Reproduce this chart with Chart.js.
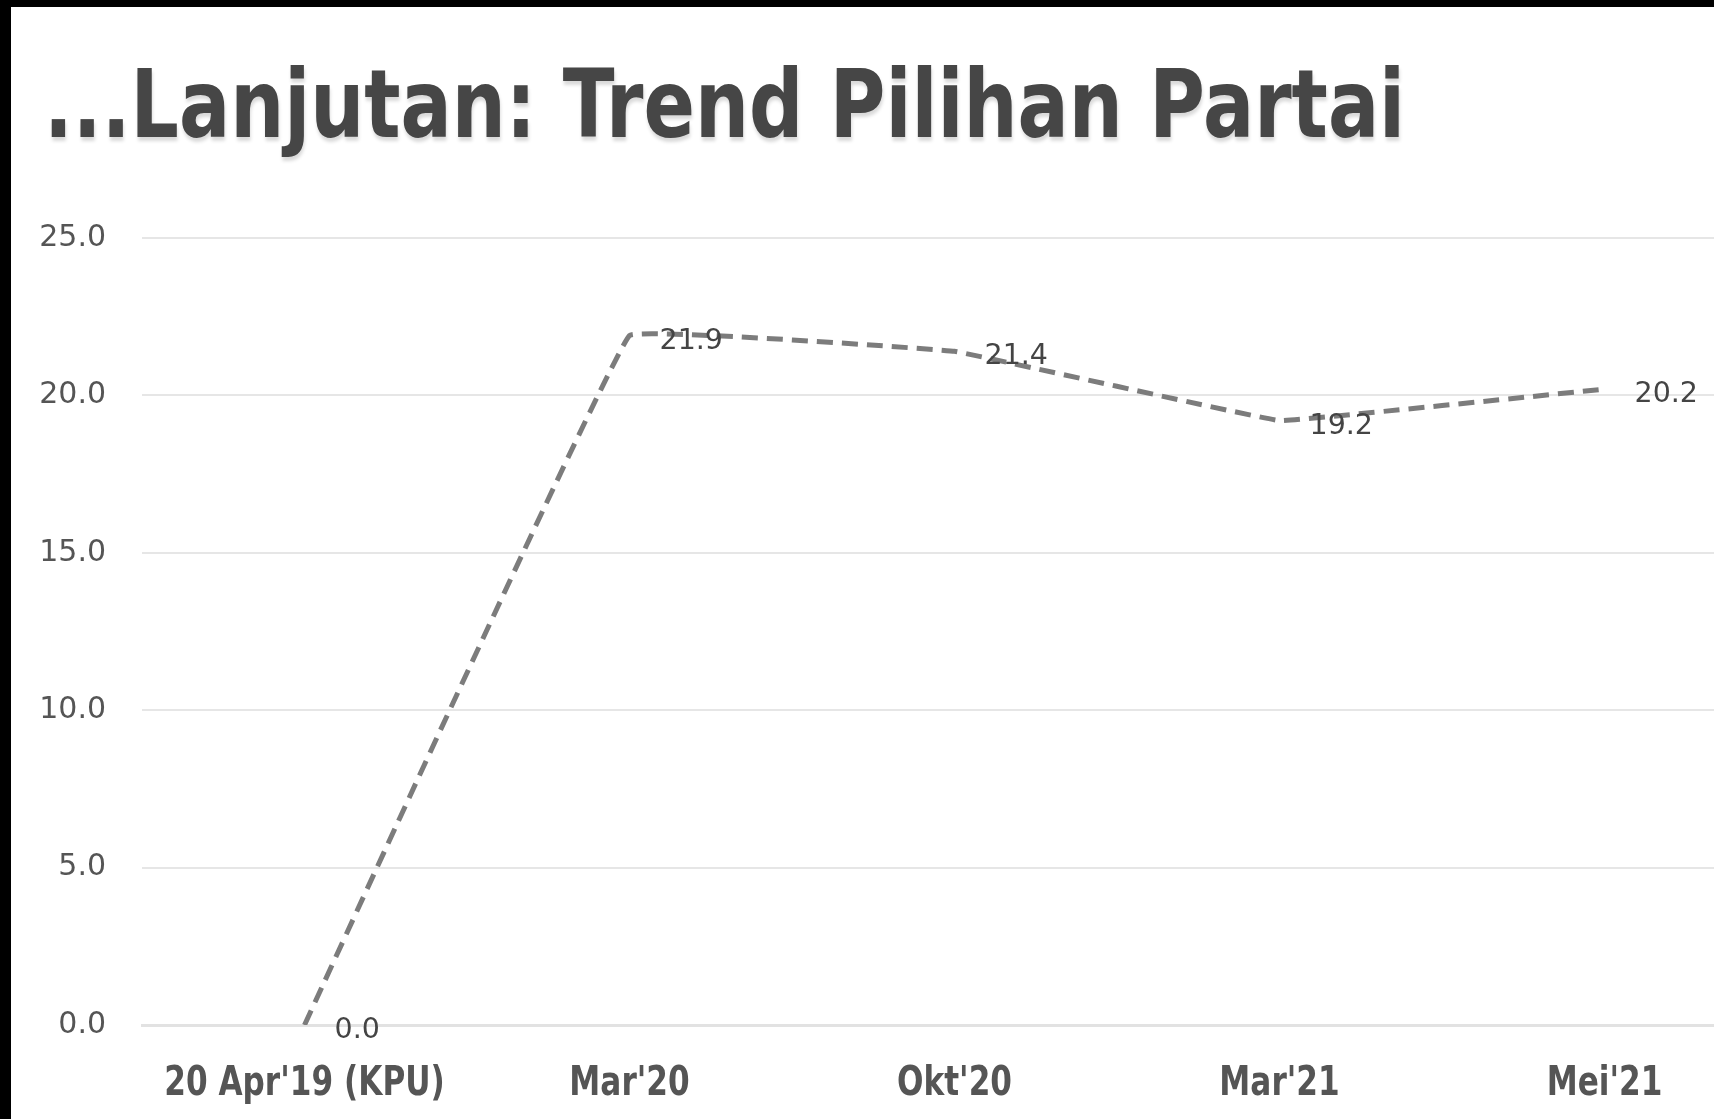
<!DOCTYPE html>
<html>
<head>
<meta charset="utf-8">
<script src="https://cdn.jsdelivr.net/npm/chart.js@4.4.1/dist/chart.umd.min.js"></script>
<style>
  html, body { margin: 0; padding: 0; background: #000; overflow: hidden; width: 1714px; height: 1119px; }
  #panel { position: absolute; left: 11px; top: 7px; width: 1800px; height: 1200px; background: #fff; }
  #title {
    position: absolute; left: 44px; top: 57px; margin: 0;
    font: bold 95px "DejaVu Sans"; line-height: 1; color: #464646;
    white-space: nowrap; transform-origin: 0 0;
    text-shadow: 1px 4px 4px rgba(0, 0, 0, 0.15);
  }
  #wrap { position: absolute; left: 0; top: 0; width: 1800px; height: 1119px; }
</style>
</head>
<body>
<div id="panel"></div>
<div id="wrap"><canvas id="trendChart"></canvas></div>
<h1 id="title">...Lanjutan: Trend Pilihan Partai</h1>
<script>
const categories = ["20 Apr'19 (KPU)", "Mar'20", "Okt'20", "Mar'21", "Mei'21"];
const shareValues = [0.0, 21.9, 21.4, 19.2, 20.2];
const yTicks = [0, 5, 10, 15, 20, 25];

// squeeze the title to the width it has in the picture
function fitTitle() {
  const title = document.getElementById("title");
  const w = title.offsetWidth;
  title.style.transform = `scaleX(${1361 / w})`;
}
fitTitle();

// value labels to the right of every point
const valueLabels = {
  id: "valueLabels",
  afterDatasetsDraw(chart) {
    const ctx = chart.ctx;
    const meta = chart.getDatasetMeta(0);
    ctx.save();
    ctx.font = "28.5px 'DejaVu Sans'";
    ctx.fillStyle = "#444";
    ctx.textAlign = "left";
    ctx.textBaseline = "alphabetic";
    meta.data.forEach((pt, i) => {
      ctx.fillText(shareValues[i].toFixed(1), pt.x + 30, pt.y + 13);
    });
    ctx.restore();
  },
};

// condensed bold category labels under the axis
const categoryLabels = {
  id: "categoryLabels",
  afterDraw(chart) {
    const ctx = chart.ctx;
    const scale = chart.scales.x;
    ctx.save();
    ctx.font = "bold 41px 'DejaVu Sans'";
    ctx.fillStyle = "#555";
    ctx.textAlign = "center";
    ctx.textBaseline = "alphabetic";
    scale.ticks.forEach((t, i) => {
      ctx.save();
      ctx.translate(scale.getPixelForTick(i), scale.top + 70);
      ctx.scale(0.76, 1);
      ctx.fillText(scale.getLabelForValue(t.value), 0, 0);
      ctx.restore();
    });
    ctx.restore();
  },
};

const ctx = document.getElementById("trendChart").getContext("2d");
new Chart(ctx, {
  type: "line",
  data: {
    labels: categories,
    datasets: [
      {
        data: shareValues,
        borderColor: "#7c7c7c",
        borderWidth: 5,
        borderDash: [16, 9],
        pointRadius: 0,
        tension: 0.04,
        fill: false,
      },
    ],
  },
  options: {
    responsive: true,
    maintainAspectRatio: false,
    animation: false,
    layout: {
      padding: { left: 0, right: 33, top: 238, bottom: 0 },
    },
    plugins: {
      legend: { display: false },
      tooltip: { enabled: false },
    },
    scales: {
      x: {
        offset: true,
        grid: { display: false },
        border: { display: true, color: "#e2e2e2", width: 3 },
        ticks: { display: false },
        afterFit: (scale) => {
          scale.height = 94;
        },
      },
      y: {
        min: 0,
        max: 25,
        afterBuildTicks: (scale) => {
          scale.ticks = yTicks.map((v) => ({ value: v }));
        },
        afterFit: (scale) => {
          scale.width = 142;
        },
        grid: { color: "#e6e6e6", lineWidth: 2, drawTicks: false },
        border: { display: false },
        ticks: {
          padding: 36,
          color: "#555",
          font: { family: "DejaVu Sans", size: 30 },
          callback: (v) => v.toFixed(1),
        },
      },
    },
  },
  plugins: [valueLabels, categoryLabels],
});
</script>
</body>
</html>
